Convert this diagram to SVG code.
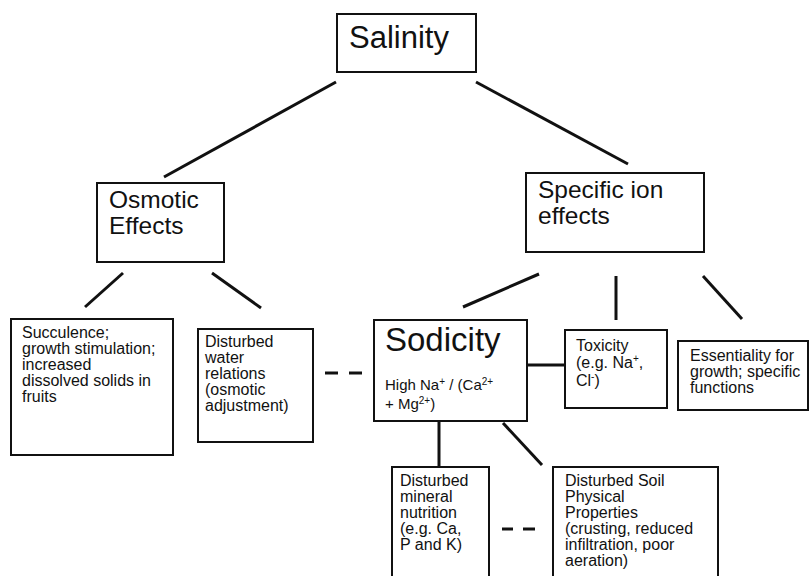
<svg xmlns="http://www.w3.org/2000/svg" width="809" height="576" viewBox="0 0 809 576">
<style>
text{font-family:"Liberation Sans",Arial,sans-serif;fill:#111}
.box{fill:none;stroke:#111;stroke-width:2}
.c{stroke:#111;stroke-width:3;fill:none;stroke-linecap:butt}
.d{stroke:#111;stroke-width:3;fill:none}
.s{font-size:16px}
.m{font-size:24.5px}
.sup{font-size:10px}
</style>
<rect width="809" height="576" fill="#fff"/>
<g id="connectors">
<line class="c" x1="336" y1="82" x2="164" y2="177"/>
<line class="c" x1="476" y1="82" x2="628" y2="164"/>
<line class="c" x1="123" y1="273" x2="85" y2="307"/>
<line class="c" x1="212" y1="273" x2="261" y2="308"/>
<line class="c" x1="539" y1="274" x2="463" y2="307"/>
<line class="c" x1="616" y1="276" x2="616" y2="320"/>
<line class="c" x1="703" y1="276" x2="742" y2="319"/>
<line class="c" x1="527" y1="365" x2="565" y2="365"/>
<line class="c" x1="439" y1="421" x2="439" y2="467"/>
<line class="c" x1="503" y1="423" x2="542" y2="465"/>
<line class="d" x1="325" y1="373" x2="338" y2="373"/>
<line class="d" x1="349" y1="373" x2="362" y2="373"/>
<line class="d" x1="502" y1="529" x2="513" y2="529"/>
<line class="d" x1="523" y1="529" x2="535" y2="529"/>
</g>
<g id="salinity">
<rect class="box" x="337" y="14" width="139" height="58"/>
<text x="349" y="48" font-size="31">Salinity</text>
</g>
<g id="osmotic">
<rect class="box" x="97" y="183" width="127" height="79"/>
<text class="m" x="109" y="208">Osmotic</text>
<text class="m" x="109" y="234">Effects</text>
</g>
<g id="specific">
<rect class="box" x="526" y="173" width="178" height="79"/>
<text class="m" x="538" y="198">Specific ion</text>
<text class="m" x="538" y="224">effects</text>
</g>
<g id="succulence">
<rect class="box" x="11" y="319" width="162" height="136"/>
<text class="s" x="22" y="338">Succulence;</text>
<text class="s" x="22" y="354">growth stimulation;</text>
<text class="s" x="22" y="370">increased</text>
<text class="s" x="22" y="386">dissolved solids in</text>
<text class="s" x="22" y="402">fruits</text>
</g>
<g id="water">
<rect class="box" x="198" y="329" width="115" height="113"/>
<text class="s" x="205" y="347">Disturbed</text>
<text class="s" x="205" y="363">water</text>
<text class="s" x="205" y="379">relations</text>
<text class="s" x="205" y="395">(osmotic</text>
<text class="s" x="205" y="411">adjustment)</text>
</g>
<g id="sodicity">
<rect class="box" x="374" y="320" width="153" height="101"/>
<text x="385" y="351" font-size="33">Sodicity</text>
<text x="385" y="390" font-size="15">High Na<tspan class="sup" dy="-5">+</tspan><tspan dy="5"> / (Ca</tspan><tspan class="sup" dy="-5">2+</tspan></text>
<text x="385" y="409" font-size="15">+ Mg<tspan class="sup" dy="-5">2+</tspan><tspan dy="5">)</tspan></text>
</g>
<g id="toxicity">
<rect class="box" x="565" y="330" width="102" height="78"/>
<text class="s" x="576" y="351">Toxicity</text>
<text class="s" x="576" y="368">(e.g. Na<tspan class="sup" dy="-6">+</tspan><tspan dy="6">,</tspan></text>
<text class="s" x="576" y="386">Cl<tspan class="sup" dy="-6">-</tspan><tspan dy="6">)</tspan></text>
</g>
<g id="essentiality">
<rect class="box" x="678" y="341" width="130" height="69"/>
<text class="s" x="690" y="361">Essentiality for</text>
<text class="s" x="690" y="377">growth; specific</text>
<text class="s" x="690" y="393">functions</text>
</g>
<g id="mineral">
<rect class="box" x="392" y="467" width="97" height="120"/>
<text class="s" x="400" y="486">Disturbed</text>
<text class="s" x="400" y="502">mineral</text>
<text class="s" x="400" y="518">nutrition</text>
<text class="s" x="400" y="534">(e.g. Ca,</text>
<text class="s" x="400" y="550">P and K)</text>
</g>
<g id="soil">
<rect class="box" x="553" y="467" width="165" height="120"/>
<text class="s" x="565" y="486">Disturbed Soil</text>
<text class="s" x="565" y="502">Physical</text>
<text class="s" x="565" y="518">Properties</text>
<text class="s" x="565" y="534">(crusting, reduced</text>
<text class="s" x="565" y="550">infiltration, poor</text>
<text class="s" x="565" y="566">aeration)</text>
</g>
</svg>
